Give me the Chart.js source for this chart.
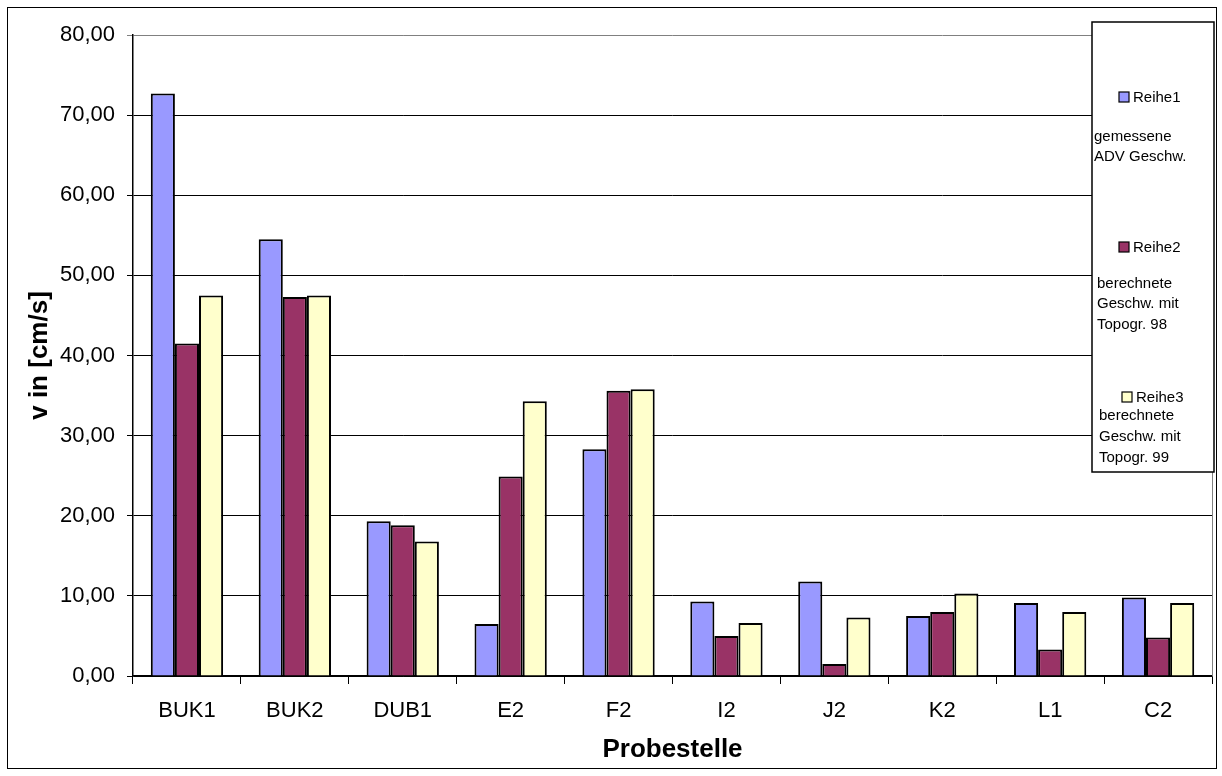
<!DOCTYPE html>
<html>
<head>
<meta charset="utf-8">
<script src="https://cdn.jsdelivr.net/npm/chart.js@4/dist/chart.umd.min.js"></script>
<style>
  html, body { margin: 0; padding: 0; background: #fff; }
  #wrap { width: 1222px; height: 776px; position: relative; }
</style>
</head>
<body>
<div id="wrap"><canvas id="chart" width="1222" height="776"></canvas></div>
<script>
// Messstellen und Geschwindigkeiten [cm/s]
var categories = ['BUK1', 'BUK2', 'DUB1', 'E2', 'F2', 'I2', 'J2', 'K2', 'L1', 'C2'];
var reihe1 = [72.7, 54.5, 19.3, 6.5, 28.3, 9.3, 11.8, 7.5, 9.1, 9.8];
var reihe2 = [41.5, 47.3, 18.8, 24.9, 35.6, 5.0, 1.5, 8.0, 3.3, 4.8];
var reihe3 = [47.5, 47.5, 16.8, 34.3, 35.8, 6.6, 7.3, 10.3, 8.0, 9.1];
var seriesNames = ['Reihe1', 'Reihe2', 'Reihe3'];
var seriesNotes = [
    ['gemessene', 'ADV Geschw.'],
    ['berechnete', 'Geschw. mit', 'Topogr. 98'],
    ['berechnete', 'Geschw. mit', 'Topogr. 99']
];
var yTicks = [0, 10, 20, 30, 40, 50, 60, 70, 80];

var FONT = '"Liberation Sans", Arial, sans-serif';
Chart.defaults.font.family = FONT;
Chart.defaults.color = '#000';

// Rahmen, Plotflaeche und Legende zeichnen
var frame = {
    id: 'frame',
    beforeDraw: function (chart) {
        var c = chart.ctx;
        c.save();
        c.fillStyle = '#fff';
        c.fillRect(0, 0, chart.width, chart.height);
        c.strokeStyle = '#000';
        c.lineWidth = 1;
        c.strokeRect(7.5, 7.5, 1209, 761);
        c.restore();
    },
    afterDraw: function (chart) {
        var c = chart.ctx, a = chart.chartArea;
        c.save();
        c.strokeStyle = '#808080';
        c.lineWidth = 1;
        c.beginPath();
        c.moveTo(a.right + 0.5, a.top);
        c.lineTo(a.right + 0.5, a.bottom);
        c.stroke();

        // Legende
        c.fillStyle = '#fff';
        c.fillRect(1092, 22, 122, 450);
        c.strokeStyle = '#000';
        c.lineWidth = 1.5;
        c.strokeRect(1092, 22, 122, 450);

        var items = [
            { sq: [1119, 92], notes: [[1094, 137], [1094, 157]] },
            { sq: [1119, 242], notes: [[1097, 284], [1097, 304], [1097, 325]] },
            { sq: [1122, 392], notes: [[1099, 416], [1099, 437], [1099, 458]] }
        ];
        c.font = '15px ' + FONT;
        c.textBaseline = 'middle';
        c.textAlign = 'left';
        items.forEach(function (it, i) {
            var ds = chart.data.datasets[i];
            c.fillStyle = ds.backgroundColor;
            c.fillRect(it.sq[0], it.sq[1], 10, 10);
            c.strokeStyle = '#000';
            c.lineWidth = 1.2;
            c.strokeRect(it.sq[0], it.sq[1], 10, 10);
            c.fillStyle = '#000';
            c.fillText(ds.label, it.sq[0] + 14, it.sq[1] + 6);
            seriesNotes[i].forEach(function (t, j) {
                c.fillText(t, it.notes[j][0], it.notes[j][1]);
            });
        });
        c.restore();
    }
};

new Chart(document.getElementById('chart'), {
    type: 'bar',
    data: {
        labels: categories,
        datasets: [
            { label: seriesNames[0], data: reihe1, backgroundColor: '#9999FF' },
            { label: seriesNames[1], data: reihe2, backgroundColor: '#993366' },
            { label: seriesNames[2], data: reihe3, backgroundColor: '#FFFFCC' }
        ]
    },
    options: {
        responsive: false,
        animation: false,
        layout: { padding: { left: 0, top: 35, right: 10, bottom: 0 } },
        datasets: {
            bar: {
                borderColor: '#000',
                borderWidth: 2,
                categoryPercentage: 0.67,
                barPercentage: 1.0
            }
        },
        plugins: {
            legend: { display: false },
            tooltip: { enabled: false }
        },
        scales: {
            x: {
                afterFit: function (s) { s.height = 100; },
                grid: { display: true, drawOnChartArea: false, color: '#000', tickLength: 8, offset: true },
                border: { color: '#000', width: 1.5 },
                ticks: { font: { size: 22 }, padding: 14, color: '#000' },
                title: {
                    display: true, text: 'Probestelle',
                    font: { size: 26, weight: 'bold' }, padding: { top: 4, bottom: 11 }, color: '#000'
                }
            },
            y: {
                min: 0, max: 80,
                afterFit: function (s) { s.width = 133; },
                afterBuildTicks: function (s) {
                    s.ticks = yTicks.map(function (v) { return { value: v }; });
                },
                grid: {
                    color: function (ctx) { return ctx.tick && ctx.tick.value === 80 ? '#808080' : '#000'; },
                    tickLength: 6, lineWidth: 1
                },
                border: { color: '#000', width: 1.5 },
                ticks: {
                    font: { size: 22 }, padding: 12, color: '#000',
                    callback: function (v) { return v.toFixed(2).replace('.', ','); }
                },
                title: {
                    display: true, text: 'v in [cm/s]',
                    font: { size: 26, weight: 'bold' }, padding: { top: 24, bottom: 0 }, color: '#000'
                }
            }
        }
    },
    plugins: [frame]
});
</script>
</body>
</html>
